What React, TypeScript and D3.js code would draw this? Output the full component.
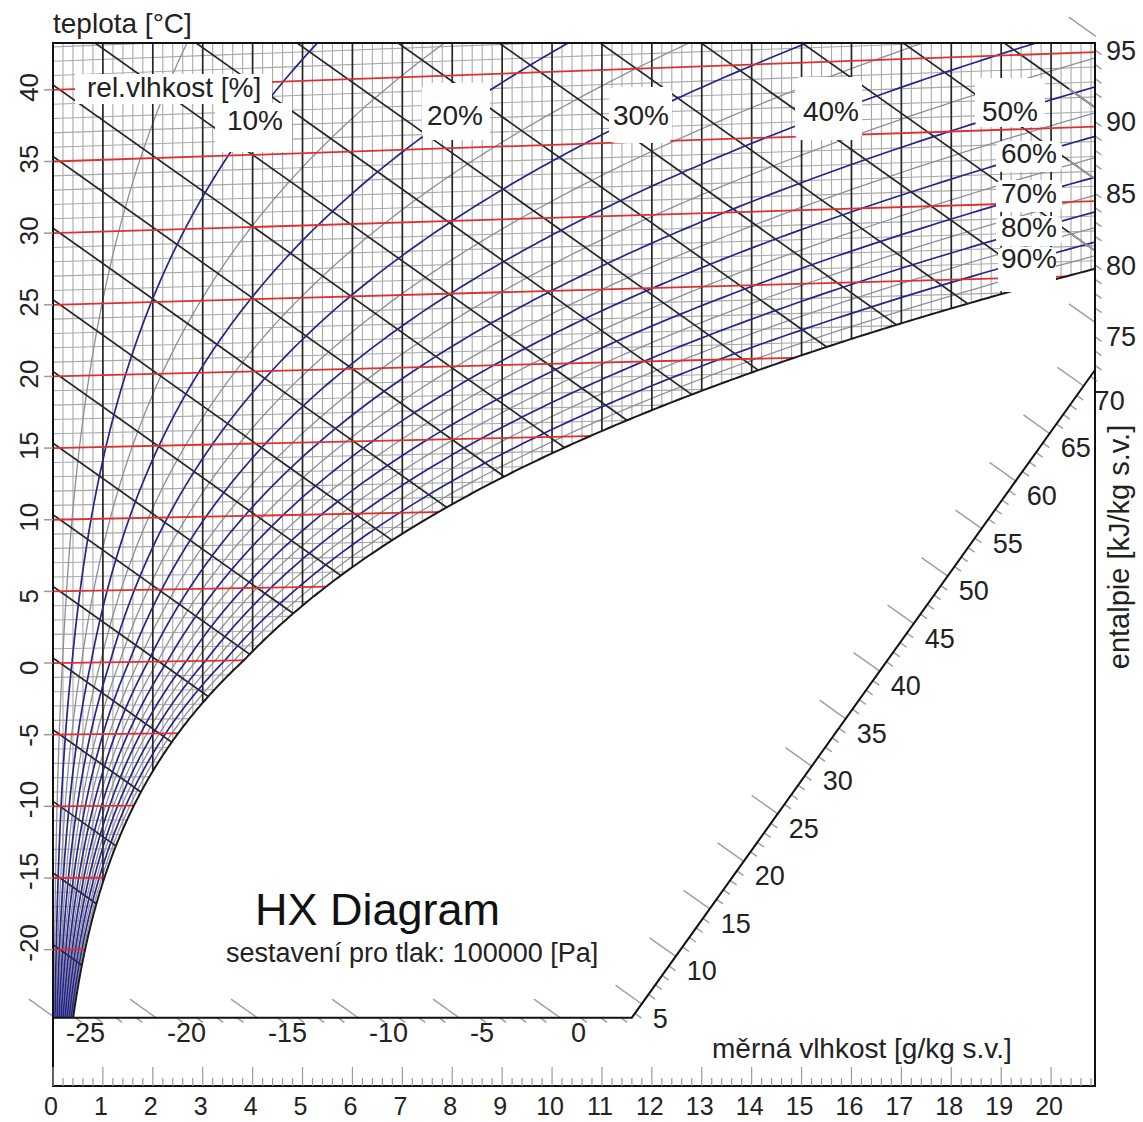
import React from 'react';
import * as d3 from 'd3';

// ---------------- data ----------------
const PRESSURE_PA = 100000;
const X_TICKS = [0, 1, 2, 3, 4, 5, 6, 7, 8, 9, 10, 11, 12, 13, 14, 15, 16, 17, 18, 19, 20];
const Y_TICKS = [40, 35, 30, 25, 20, 15, 10, 5, 0, -5, -10, -15, -20];
const ISOTHERMS_RED = [-25, -20, -15, -10, -5, 0, 5, 10, 15, 20, 25, 30, 35, 40];
const RH_BLUE = [10, 20, 30, 40, 50, 60, 70, 80, 90];
const RH_GRAY = [5, 15, 25, 35, 45, 55, 65, 75, 85, 95];
const ENTHALPY_BLACK = [-25, -20, -15, -10, -5, 0, 5, 10, 15, 20, 25, 30, 35, 40, 45, 50, 55, 60, 65, 70, 75, 80, 85, 90, 95, 100];
const ENTHALPY_LABELS = [-25, -20, -15, -10, -5, 0, 5, 10, 15, 20, 25, 30, 35, 40, 45, 50, 55, 60, 65, 70, 75, 80, 85, 90, 95];
const RH_LABELS = ['10%', '20%', '30%', '40%', '50%', '60%', '70%', '80%', '90%'];
const LEGEND_TITLE = 'rel.vlhkost [%]';
const TITLE = 'HX Diagram';
const SUBTITLE = 'sestavení pro tlak: 100000 [Pa]';
const Y_AXIS_TITLE = 'teplota [°C]';
const X_AXIS_TITLE = 'měrná vlhkost [g/kg s.v.]';
const H_AXIS_TITLE = 'entalpie [kJ/kg s.v.]';

// ---------------- layout / model ----------------
const FONT = "'Liberation Sans', Arial, Helvetica, sans-serif";
const X_MAX = 20.88;
const Y_MIN = -24.75;
const Y_MAX = 43.27;
const PX_LEFT = 53, PX_RIGHT = 1095, PX_TOP = 43, PX_BOTTOM = 1017.7, AXIS_Y = 1086;
const X_CORNER = 11.6, Y_DIAG_TOP = 20.45;
const ISO_A = 0.05, ISO_B = 0.0019; // isotherm skew
const ENTH_B = 2.47, ENTH_C = 0.35; // enthalpy line slope / offset
const GRID_X_STEP = 0.2;
const GRID_T_STEP = 1;
const ENTH_TICK_STEP = 1;

const RH_LABEL_LAYOUT = [
  { cx: 255, base: 130, box: [215, 103, 292, 152] },
  { cx: 455, base: 125, box: [422, 83, 490, 140] },
  { cx: 641, base: 125, box: [609, 87, 672, 143] },
  { cx: 831, base: 121, box: [795, 77, 862, 140] },
  { cx: 1010, base: 121, box: [975, 78, 1045, 127] },
  { cx: 1029, base: 163, box: [996, 141, 1062, 172] },
  { cx: 1029, base: 203, box: [996, 180, 1062, 212] },
  { cx: 1029, base: 237, box: [996, 216, 1062, 246] },
  { cx: 1029, base: 268, box: [998, 247, 1056, 292] },
];

const sx = d3.scaleLinear().domain([0, X_MAX]).range([PX_LEFT, PX_RIGHT]);
const sy = d3.scaleLinear().domain([Y_MIN, Y_MAX]).range([PX_BOTTOM, PX_TOP]);

const psat = (t: number) =>
  t >= 0 ? 611.2 * Math.exp((17.62 * t) / (243.12 + t)) : 611.2 * Math.exp((22.46 * t) / (272.62 + t));
const hum = (t: number, phi: number) => {
  const pv = phi * psat(t);
  return (622 * pv) / (PRESSURE_PA - pv);
};
const yIso = (t: number, x: number) => t + x * (ISO_A + ISO_B * t);
const yEnth = (h: number, x: number) => h - ENTH_B * x + ENTH_C;

type P = [number, number];
const line = d3.line<P>().x((d) => sx(d[0])).y((d) => sy(d[1]));

// saturation temperature at right frame
let lo = 0, hi = 45;
for (let i = 0; i < 60; i++) {
  const mid = (lo + hi) / 2;
  if (hum(mid, 1) < X_MAX) lo = mid; else hi = mid;
}
const T_EDGE = lo;
const satCurve: P[] = d3.range(-32, T_EDGE, 0.1).map((t) => {
  const x = hum(t, 1);
  return [x, yIso(t, x)] as P;
});
satCurve.push([X_MAX, yIso(T_EDGE, X_MAX)]);
const regionPts: P[] = [[0, Y_MAX + 2], [X_MAX + 0.5, Y_MAX + 2], [X_MAX + 0.5, satCurve[satCurve.length - 1][1]], ...satCurve.slice().reverse(), [0, satCurve[0][1]]];

const rhCurve = (phi: number): P[] =>
  d3.range(-32, 50, 0.2)
    .map((t) => {
      const x = hum(t, phi / 100);
      return [x, yIso(t, x)] as P;
    })
    .filter((p) => p[0] < 30 && p[1] < Y_MAX + 8);

const isoLine = (t: number): P[] => [[0, yIso(t, 0)], [X_MAX + 0.5, yIso(t, X_MAX + 0.5)]];
const enthLine = (h: number): P[] => [[0, yEnth(h, 0)], [X_MAX + 0.5, yEnth(h, X_MAX + 0.5)]];
const vLine = (x: number): P[] => [[x, Y_MIN - 2], [x, Y_MAX + 2]];

const gridX = d3.range(1, Math.floor(X_MAX / GRID_X_STEP) + 1).map((i) => i * GRID_X_STEP).filter((x) => Math.abs(x - Math.round(x)) > 1e-6);
const gridT = d3.range(-25, 45, GRID_T_STEP).filter((t) => t % 5 !== 0);

// enthalpy scale on border
const M_DIAG = (Y_DIAG_TOP - Y_MIN) / (X_MAX - X_CORNER);
const scalePt = (h: number): P => {
  let x = (h + ENTH_C - Y_MIN) / ENTH_B;
  if (x >= 0 && x <= X_CORNER) return [x, Y_MIN];
  x = (h + ENTH_C - Y_MIN + M_DIAG * X_CORNER) / (ENTH_B + M_DIAG);
  if (x > X_CORNER && x <= X_MAX) return [x, Y_MIN + M_DIAG * (x - X_CORNER)];
  return [X_MAX, yEnth(h, X_MAX)];
};
const ux = sx(1) - sx(0);
const uy = sy(0) - sy(ENTH_B);
const ulen = Math.hypot(ux, uy);
const DX = ux / ulen, DY = uy / ulen;
const enthTicks = d3.range(-25, 96, ENTH_TICK_STEP);

export default function App() {
  return (
    <svg
      width={1143}
      height={1122}
      viewBox="0 0 1143 1122"
      style={{ position: 'absolute', left: 0, top: 0, background: '#fff', fontFamily: FONT }}
    >
      <defs>
        <clipPath id="frameClip">
          <rect x={PX_LEFT} y={PX_TOP} width={PX_RIGHT - PX_LEFT} height={PX_BOTTOM - PX_TOP} />
        </clipPath>
        <clipPath id="airClip">
          <path d={line(regionPts) + 'Z'} />
        </clipPath>
      </defs>
      <rect x={0} y={0} width={1143} height={1122} fill="#fff" />

      <g clipPath="url(#frameClip)">
        <g clipPath="url(#airClip)" fill="none">
          {gridX.map((x) => (
            <path key={'gx' + x} d={line(vLine(x)) || ''} stroke="#a9a9a9" strokeWidth={1.1} />
          ))}
          {gridT.map((t) => (
            <path key={'gt' + t} d={line(isoLine(t)) || ''} stroke="#a9a9a9" strokeWidth={1.1} />
          ))}
          {RH_GRAY.map((r) => (
            <path key={'rg' + r} d={line(rhCurve(r)) || ''} stroke="#8e8e9c" strokeWidth={1.3} />
          ))}
          {X_TICKS.filter((x) => x > 0).map((x) => (
            <path key={'vx' + x} d={line(vLine(x)) || ''} stroke="#262626" strokeWidth={1.7} />
          ))}
          {ENTHALPY_BLACK.map((h) => (
            <path key={'eh' + h} d={line(enthLine(h)) || ''} stroke="#262626" strokeWidth={1.7} />
          ))}
          {RH_BLUE.map((r) => (
            <path key={'rb' + r} d={line(rhCurve(r)) || ''} stroke="#25258c" strokeWidth={1.7} />
          ))}
          {ISOTHERMS_RED.map((t) => (
            <path key={'ir' + t} d={line(isoLine(t)) || ''} stroke="#e0302e" strokeWidth={1.8} />
          ))}
        </g>
        <path d={line(satCurve) || ''} fill="none" stroke="#1a1a1a" strokeWidth={2} />
      </g>

      {/* label masks */}
      <rect x={75} y={74} width={197} height={30} fill="#fff" />
      {RH_LABEL_LAYOUT.map((l, i) => (
        <rect key={'m' + i} x={l.box[0]} y={l.box[1]} width={l.box[2] - l.box[0]} height={l.box[3] - l.box[1]} fill="#fff" rx={6} />
      ))}
      <text x={87} y={97} fontSize={28} fill="#222">{LEGEND_TITLE}</text>
      {RH_LABELS.map((s, i) => (
        <text key={'rl' + i} x={RH_LABEL_LAYOUT[i].cx} y={RH_LABEL_LAYOUT[i].base} fontSize={28} fill="#222" textAnchor="middle">
          {s}
        </text>
      ))}

      {/* enthalpy scale ticks */}
      {enthTicks.map((h) => {
        const p = scalePt(h);
        const X = sx(p[0]), Y = sy(p[1]);
        const major = h % 5 === 0;
        const d = major
          ? `M${X - 32 * DX},${Y - 32 * DY}L${X + 1 * DX},${Y + 1 * DY}`
          : `M${X},${Y}L${X + 8 * DX},${Y + 8 * DY}`;
        return <path key={'et' + h} d={d} stroke="#a0a0a0" strokeWidth={1.5} fill="none" />;
      })}
      {ENTHALPY_LABELS.map((h) => {
        const p = scalePt(h);
        return (
          <text key={'el' + h} x={sx(p[0]) + 11} y={sy(p[1]) + 15} fontSize={27} fill="#222" dominantBaseline="central">
            {h}
          </text>
        );
      })}

      {/* frame and border */}
      <g fill="none" stroke="#111" strokeWidth={2}>
        <path d={`M${PX_LEFT},${PX_TOP}H${PX_RIGHT}V${AXIS_Y}H${PX_LEFT}Z`} />
        <path d={`M${PX_LEFT},${PX_BOTTOM}H${sx(X_CORNER)}L${PX_RIGHT},${sy(Y_DIAG_TOP)}`} />
      </g>

      {/* x axis ticks */}
      {d3.range(0, Math.floor(X_MAX / GRID_X_STEP) + 1).map((i) => {
        const x = sx(i * GRID_X_STEP);
        const major = i % 5 === 0;
        return <line key={'xt' + i} x1={x} x2={x} y1={AXIS_Y} y2={AXIS_Y - (major ? 19 : 8)} stroke="#9a9a9a" strokeWidth={1.2} />;
      })}
      {X_TICKS.map((v) => (
        <text key={'xl' + v} x={sx(v) - 2} y={1115} fontSize={25} textAnchor="middle" fill="#222">
          {v}
        </text>
      ))}

      {/* y axis ticks */}
      {Y_TICKS.map((t) => (
        <g key={'yt' + t}>
          <line x1={44} x2={PX_LEFT} y1={sy(t)} y2={sy(t)} stroke="#9a9a9a" strokeWidth={1.5} />
          <text transform={`translate(38,${sy(t) + 12}) rotate(-90)`} fontSize={26} fill="#222">
            {t}
          </text>
        </g>
      ))}

      {/* titles */}
      <text x={53} y={33} fontSize={28} fill="#222">{Y_AXIS_TITLE}</text>
      <text x={712} y={1058} fontSize={28} fill="#222">{X_AXIS_TITLE}</text>
      <text transform="translate(1129,547) rotate(-90)" fontSize={29} fill="#222" textAnchor="middle">
        {H_AXIS_TITLE}
      </text>
      <text x={255} y={925} fontSize={45} fill="#111">{TITLE}</text>
      <text x={226} y={962} fontSize={27} fill="#222">{SUBTITLE}</text>
    </svg>
  );
}
